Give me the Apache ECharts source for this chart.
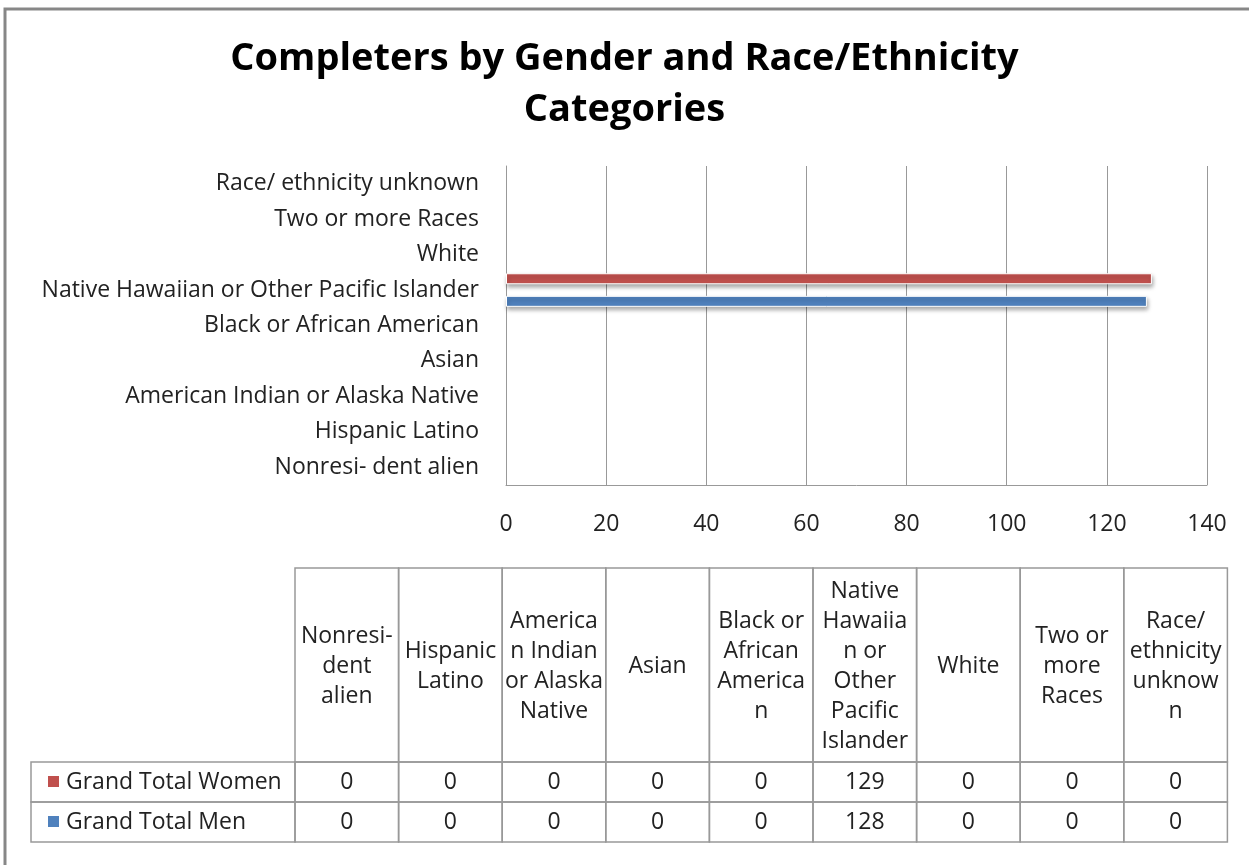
<!DOCTYPE html>
<html>
<head>
<meta charset="utf-8">
<script src="https://cdn.jsdelivr.net/npm/echarts@6/dist/echarts.min.js"></script>
<style>
  html, body { margin: 0; padding: 0; background: #fff; }
  #chart { width: 1249px; height: 865px; }
</style>
</head>
<body>
<div id="chart"></div>
<script>
// categories, bottom to top on the axis (same order as the table columns)
const categories = [
  'Nonresi- dent alien',
  'Hispanic Latino',
  'American Indian or Alaska Native',
  'Asian',
  'Black or African American',
  'Native Hawaiian or Other Pacific Islander',
  'White',
  'Two or more Races',
  'Race/ ethnicity unknown'
]
// header text as it wraps in the data table
const tableHeaders = [
  'Nonresi-\ndent\nalien',
  'Hispanic\nLatino',
  'America\nn Indian\nor Alaska\nNative',
  'Asian',
  'Black or\nAfrican\nAmerica\nn',
  'Native\nHawaiia\nn or\nOther\nPacific\nIslander',
  'White',
  'Two or\nmore\nRaces',
  'Race/\nethnicity\nunknow\nn'
]
const women = [0, 0, 0, 0, 0, 129, 0, 0, 0]
const men = [0, 0, 0, 0, 0, 128, 0, 0, 0]
const xTicks = { min: 0, max: 140, interval: 20 }

const FONT = '"Open Sans", sans-serif'
const SIZE = 23
const RED = '#C0504D'
const BLUE = '#4F81BD'
const LINE = '#999'

// data table under the chart
const buildTable = () => {
  const els = []
  const left = 295
  const colW = 103.6
  const headTop = 568
  const headH = 194
  const rowH = 40
  const labelLeft = 31
  const rows = [
    { name: 'Grand Total Women', color: RED, values: women },
    { name: 'Grand Total Men', color: BLUE, values: men }
  ]
  const txt = (text, x, y, align, extra) => ({
    type: 'text',
    style: Object.assign({
      text, x, y,
      textAlign: align, align,
      textVerticalAlign: 'middle', verticalAlign: 'middle',
      font: SIZE + 'px ' + FONT, fill: '#222'
    }, extra || {})
  })
  tableHeaders.forEach((h, i) => {
    const x = left + i * colW
    els.push({ type: 'rect', shape: { x, y: headTop, width: colW, height: headH },
      style: { fill: 'none', stroke: LINE, lineWidth: 1.5 } })
    els.push(txt(h, x + colW / 2, headTop + headH / 2 + 1, 'center', { lineHeight: 30 }))
  })
  rows.forEach((r, j) => {
    const y = headTop + headH + j * rowH
    els.push({ type: 'rect', shape: { x: labelLeft, y, width: left - labelLeft, height: rowH },
      style: { fill: 'none', stroke: LINE, lineWidth: 1.5 } })
    els.push({ type: 'rect', shape: { x: labelLeft + 17, y: y + 14, width: 11, height: 11 },
      style: { fill: r.color } })
    els.push(txt(r.name, labelLeft + 35, y + rowH / 2, 'left'))
    r.values.forEach((v, i) => {
      const x = left + i * colW
      els.push({ type: 'rect', shape: { x, y, width: colW, height: rowH },
        style: { fill: 'none', stroke: LINE, lineWidth: 1.5 } })
      els.push(txt(String(v), x + colW / 2, y + rowH / 2, 'center'))
    })
  })
  // outer chart frame
  els.push({ type: 'rect', shape: { x: 5, y: 9, width: 1300, height: 900 },
    style: { fill: 'none', stroke: '#878787', lineWidth: 3 } })
  return els
}

const chart = echarts.init(document.getElementById('chart'))

const barStyle = (color) => ({
  color,
  borderColor: '#fff',
  borderWidth: 1,
  shadowColor: 'rgba(0,0,0,0.35)',
  shadowBlur: 4,
  shadowOffsetX: 1,
  shadowOffsetY: 3
})

chart.setOption({
  animation: false,
  title: {
    text: 'Completers by Gender and Race/Ethnicity\nCategories',
    left: 'center',
    top: 29,
    textStyle: {
      fontFamily: FONT,
      fontWeight: 'bold',
      fontSize: 38,
      lineHeight: 51,
      color: '#000'
    }
  },
  grid: {
    left: 506,
    right: 42,
    top: 166,
    bottom: 380
  },
  xAxis: {
    type: 'value',
    min: xTicks.min,
    max: xTicks.max,
    interval: xTicks.interval,
    axisLine: { show: true, lineStyle: { color: LINE } },
    axisTick: { show: false },
    splitLine: { show: true, lineStyle: { color: LINE, width: 1 } },
    axisLabel: { margin: 28, fontFamily: FONT, fontSize: SIZE, color: '#222' }
  },
  yAxis: {
    type: 'category',
    data: categories,
    axisLine: { show: true, lineStyle: { color: LINE } },
    axisTick: { show: false },
    axisLabel: { margin: 27, fontFamily: FONT, fontSize: SIZE, color: '#222' }
  },
  series: [
    {
      name: 'Grand Total Women',
      type: 'bar',
      data: women.map(v => v || null),
      barWidth: 11,
      barGap: '105%',
      itemStyle: barStyle(RED)
    },
    {
      name: 'Grand Total Men',
      type: 'bar',
      data: men.map(v => v || null),
      barWidth: 11,
      barGap: '105%',
      itemStyle: barStyle(BLUE)
    }
  ],
  graphic: buildTable()
})

window.addEventListener('resize', () => {
  chart.resize()
})
</script>
</body>
</html>
